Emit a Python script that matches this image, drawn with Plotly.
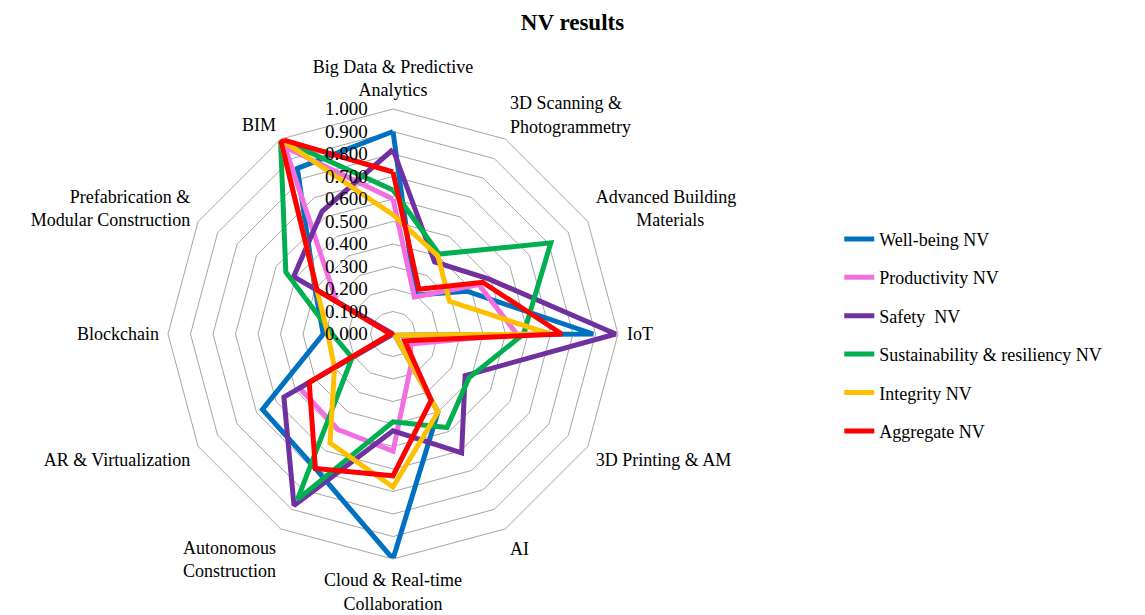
import plotly.graph_objects as go

# Technology categories, clockwise from the top
categories = [
    "Big Data & Predictive<br>Analytics",
    "3D Scanning &<br>Photogrammetry",
    "Advanced Building<br>\u00a0\u00a0\u00a0\u00a0\u00a0\u00a0\u00a0\u00a0\u00a0Materials",
    "IoT",
    "3D Printing & AM",
    "AI",
    "Cloud & Real-time<br>Collaboration",
    "Autonomous<br>Construction",
    "AR & Virtualization",
    "Blockchain",
    "Prefabrication &<br>Modular Construction",
    "BIM",
]

# Normalised values per criterion (same order as categories)
wellbeing_nv      = [0.90, 0.20, 0.38, 0.89, 0.01, 0.40, 1.00, 0.69, 0.67, 0.31, 0.40, 0.85]
productivity_nv   = [0.60, 0.19, 0.44, 0.55, 0.09, 0.16, 0.52, 0.49, 0.48, 0.01, 0.29, 0.96]
safety_nv         = [0.82, 0.37, 0.49, 0.99, 0.37, 0.61, 0.43, 0.88, 0.56, 0.00, 0.51, 0.63]
sustainability_nv = [0.64, 0.41, 0.81, 0.58, 0.39, 0.48, 0.39, 0.85, 0.21, 0.27, 0.55, 1.00]
integrity_nv      = [0.53, 0.40, 0.29, 0.70, 0.01, 0.40, 0.68, 0.56, 0.30, 0.29, 0.39, 1.00]
aggregate_nv      = [0.72, 0.23, 0.46, 0.75, 0.06, 0.34, 0.63, 0.69, 0.43, 0.01, 0.39, 1.00]

series_names = [
    "Well-being NV",
    "Productivity NV",
    "Safety\u00a0 NV",
    "Sustainability & resiliency NV",
    "Integrity NV",
    "Aggregate NV",
]
series_values = [wellbeing_nv, productivity_nv, safety_nv,
                 sustainability_nv, integrity_nv, aggregate_nv]
series_colors = ["#0070C0", "#F26FE2", "#7030A0", "#00B050", "#FFC000", "#FF0000"]

radial_ticks = [i / 10 for i in range(11)]

FONT = "Liberation Serif, Times New Roman, serif"

fig = go.Figure()
for i, (name, vals, col) in enumerate(zip(series_names, series_values, series_colors)):
    fig.add_trace(go.Scatterpolar(
        r=vals + vals[:1],
        theta=categories + categories[:1],
        mode="lines",
        name=name,
        legendgroup=f"g{i}",
        line=dict(color=col, width=5),
    ))

fig.update_layout(
    width=1145,
    height=615,
    margin=dict(l=0, r=0, t=0, b=0),
    paper_bgcolor="white",
    plot_bgcolor="white",
    font=dict(family=FONT, color="black"),
    title=dict(
        text="<b>NV results</b>",
        x=0.5, xanchor="center",
        y=0.965, yanchor="middle",
        font=dict(family=FONT, size=23, color="black"),
    ),
    polar=dict(
        domain=dict(x=[168 / 1145, 618 / 1145], y=[56 / 615, 506 / 615]),
        bgcolor="white",
        gridshape="linear",
        angularaxis=dict(
            rotation=90,
            direction="clockwise",
            showgrid=False,
            showline=True,
            linecolor="#a6a6a6",
            linewidth=1,
            ticks="outside",
            ticklen=5,
            tickcolor="rgba(0,0,0,0)",
            tickfont=dict(family=FONT, size=18, color="black"),
        ),
        radialaxis=dict(
            range=[0, 1],
            tickvals=radial_ticks,
            tickformat=".3f",
            angle=90,
            tickangle=90,
            side="counterclockwise",
            showline=False,
            ticks="outside",
            ticklen=18,
            tickcolor="rgba(0,0,0,0)",
            showgrid=True,
            gridcolor="#a6a6a6",
            gridwidth=1,
            tickfont=dict(family=FONT, size=19, color="black"),
        ),
    ),
    legend=dict(
        x=0.733, xanchor="left",
        y=0.455, yanchor="middle",
        font=dict(family=FONT, size=18, color="black"),
        tracegroupgap=12,
        bgcolor="rgba(0,0,0,0)",
    ),
    showlegend=True,
)

fig.write_html("out.html")
